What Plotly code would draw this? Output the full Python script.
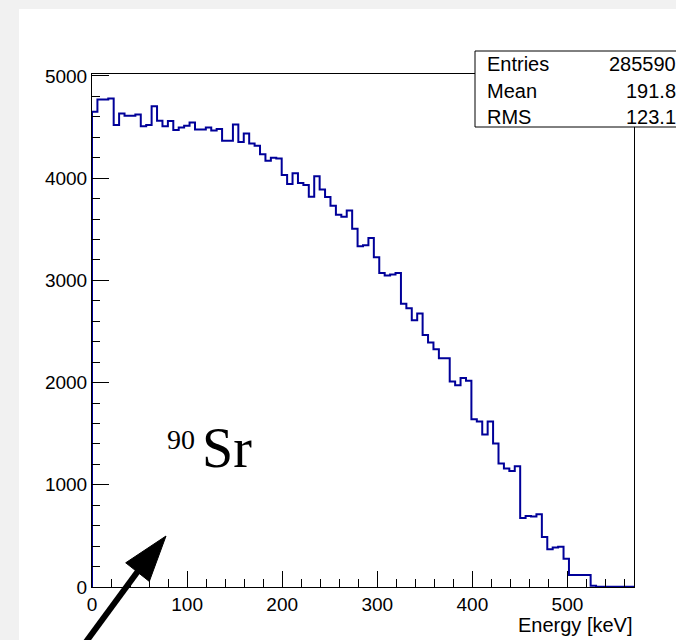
import numpy as np
import plotly.graph_objects as go

# ---------------- data ----------------
x_min_kev = 0.0
x_max_kev = 570.0
n_bins = 100
counts = [
    4649, 4769, 4769, 4780, 4519, 4633, 4610, 4610, 4623, 4509,
    4519, 4704, 4561, 4509, 4558, 4470, 4496, 4512, 4545, 4476,
    4476, 4496, 4467, 4480, 4366, 4366, 4525, 4353, 4437, 4340,
    4317, 4233, 4171, 4200, 4192, 4030, 3944, 4048, 3953, 3934,
    3817, 4018, 3890, 3815, 3730, 3642, 3623, 3684, 3506, 3333,
    3343, 3414, 3226, 3073, 3048, 3057, 3073, 2771, 2727, 2610,
    2676, 2466, 2391, 2326, 2238, 2238, 2011, 1975, 2044, 2017,
    1640, 1620, 1491, 1620, 1403, 1209, 1160, 1135, 1181, 675,
    695, 689, 711, 490, 370, 387, 393, 277, 117, 117,
    117, 117, 13, 2, 2, 2, 2, 2, 2, 2,
]
x_ticks = [0, 100, 200, 300, 400, 500]
y_ticks = [0, 1000, 2000, 3000, 4000, 5000]
y_max = 5019
stats_labels = ["Entries", "Mean", "RMS"]
stats_values = ["285590", "191.8", "123.1"]
x_title = "Energy [keV]"

# ---------------- geometry helpers ----------------
W, H = 676, 640
L, R, T, B = 92, 634, 74, 587


def px(xp):
    return (xp - L) / (R - L)


def py(yp):
    return (B - yp) / (B - T)


edges = np.linspace(x_min_kev, x_max_kev, n_bins + 1)
step_x = [edges[0]] + list(edges[:-1]) + [edges[-1], edges[-1]]
step_y = [0] + list(counts) + [counts[-1], 0]

fig = go.Figure()
fig.add_trace(go.Scatter(
    x=step_x, y=step_y, mode="lines", line_shape="hv",
    line=dict(color="#000099", width=2), hoverinfo="skip", showlegend=False,
))

axis_font = dict(family="Liberation Sans, Arial, sans-serif", size=19, color="black")

fig.update_xaxes(
    range=[x_min_kev, x_max_kev], tickvals=x_ticks, ticktext=[str(v) for v in x_ticks],
    ticks="inside", ticklen=16, tickwidth=1, tickcolor="black",
    minor=dict(dtick=20, tick0=0, ticks="inside", ticklen=8, tickcolor="black", tickwidth=1),
    showline=True, linecolor="black", linewidth=1, mirror=True,
    showgrid=False, zeroline=False, tickfont=axis_font,
)
fig.update_yaxes(
    range=[0, y_max], tickvals=y_ticks, ticktext=[str(v) for v in y_ticks],
    ticks="inside", ticklen=17, tickwidth=1, tickcolor="black",
    minor=dict(dtick=200, tick0=0, ticks="inside", ticklen=8, tickcolor="black", tickwidth=1),
    showline=True, linecolor="black", linewidth=1, mirror=True,
    showgrid=False, zeroline=False, tickfont=axis_font,
)

shapes = []
# white canvas over grey paper
shapes.append(dict(type="rect", xref="paper", yref="paper",
                   x0=px(19), x1=px(700), y0=py(660), y1=py(9),
                   fillcolor="white", line=dict(width=0), layer="below"))
# stats box
shapes.append(dict(type="rect", xref="paper", yref="paper",
                   x0=px(475), x1=px(700), y0=py(127), y1=py(51),
                   fillcolor="white", line=dict(color="black", width=1), layer="above"))
# arrow shaft
shapes.append(dict(type="line", xref="paper", yref="paper",
                   x0=px(80), y0=py(650), x1=px(141), y1=py(567),
                   line=dict(color="black", width=6), layer="above"))
# arrow head
tip = (166, 536)
c1 = (149.3, 581.4)
c2 = (125.7, 562.8)
path = "M {} {} L {} {} L {} {} Z".format(px(tip[0]), py(tip[1]), px(c1[0]), py(c1[1]), px(c2[0]), py(c2[1]))
shapes.append(dict(type="path", xref="paper", yref="paper", path=path,
                   fillcolor="black", line=dict(color="black", width=1), layer="above"))

annotations = []
stat_font = dict(family="Liberation Sans, Arial, sans-serif", size=20, color="black")
for i, (lab, val) in enumerate(zip(stats_labels, stats_values)):
    yc = 64 + i * 26.5
    annotations.append(dict(xref="paper", yref="paper", x=px(485), y=py(yc), text=lab,
                            showarrow=False, xanchor="left", yanchor="middle", font=stat_font))
    annotations.append(dict(xref="paper", yref="paper", x=px(678), y=py(yc), text=val,
                            showarrow=False, xanchor="right", yanchor="middle", font=stat_font))

annotations.append(dict(xref="paper", yref="paper", x=px(635), y=py(625), text=x_title,
                        showarrow=False, xanchor="right", yanchor="middle",
                        font=dict(family="Liberation Sans, Arial, sans-serif", size=20, color="black")))

serif = "Liberation Serif, Times New Roman, serif"
annotations.append(dict(xref="paper", yref="paper", x=px(165), y=py(439), text="90",
                        showarrow=False, xanchor="left", yanchor="middle",
                        font=dict(family=serif, size=28, color="black")))
annotations.append(dict(xref="paper", yref="paper", x=px(200), y=py(448), text="Sr",
                        showarrow=False, xanchor="left", yanchor="middle",
                        font=dict(family=serif, size=56, color="black")))

fig.update_layout(
    width=W, height=H, autosize=False,
    margin=dict(l=L, r=W - R, t=T, b=H - B, pad=0),
    paper_bgcolor="#f1f1f1", plot_bgcolor="white",
    shapes=shapes, annotations=annotations, showlegend=False,
)

fig.write_html("out.html")
